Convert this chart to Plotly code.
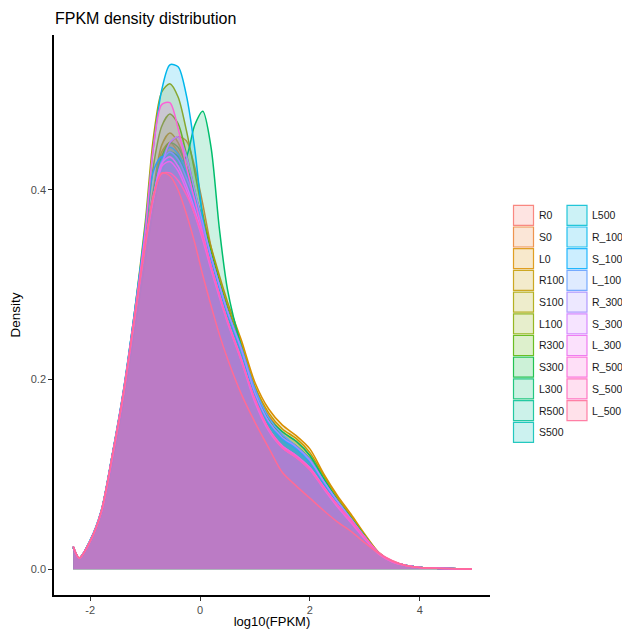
import math
import plotly.graph_objects as go

# Evaluation grid on log10(FPKM) shared by all samples
x_grid = [-2.31, -2.2, -2.0, -1.8, -1.6, -1.4, -1.2, -1.0, -0.85, -0.7, -0.55, -0.4,
          -0.25, -0.1, 0.05, 0.2, 0.35, 0.5, 0.75, 1.0, 1.25, 1.5, 1.75, 2.0, 2.25,
          2.5, 2.75, 3.0, 3.25, 3.5, 3.75, 4.0, 4.5, 4.95]

samples = ["R0", "S0", "L0", "R100", "S100", "L100", "R300", "S300", "L300",
           "R500", "S500", "L500", "R_100", "S_100", "L_100", "R_300", "S_300",
           "L_300", "R_500", "S_500", "L_500"]

R0 = [.024, .012, .030, .061, .119, .184, .262, .342, .39, .43, .44, .435, .42, .395, .365, .33, .30, .272, .232,
      .186, .156, .139, .129, .115, .093, .072, .053, .034, .017, .008, .004, .002, .0008, .0003]
S0 = [.023, .012, .029, .060, .117, .182, .260, .338, .385, .425, .448, .456, .452, .425, .385, .34, .305, .275, .235,
      .19, .162, .145, .135, .12, .096, .074, .055, .035, .017, .008, .004, .002, .0008, .0003]
L0 = [.023, .012, .029, .059, .116, .181, .260, .340, .395, .44, .45, .44, .42, .395, .37, .34, .31, .282, .242,
      .197, .169, .152, .141, .127, .101, .078, .058, .037, .018, .008, .004, .002, .0008, .0003]
R100 = [.024, .012, .030, .060, .118, .183, .262, .344, .40, .447, .46, .45, .425, .395, .365, .335, .305, .278, .238,
        .193, .165, .148, .138, .123, .099, .076, .056, .036, .018, .008, .004, .002, .0008, .0003]
S100 = [.023, .012, .030, .061, .120, .186, .268, .365, .455, .503, .512, .498, .463, .42, .375, .335, .303, .274, .233,
        .187, .157, .14, .13, .116, .093, .072, .053, .034, .017, .008, .004, .002, .0008, .0003]
L100 = [.023, .012, .030, .061, .120, .185, .265, .35, .425, .467, .48, .47, .438, .40, .365, .33, .30, .272, .232,
        .186, .156, .139, .129, .115, .093, .072, .053, .034, .017, .008, .004, .002, .0008, .0003]
R300 = [.023, .012, .030, .060, .118, .183, .262, .343, .395, .435, .45, .445, .425, .398, .366, .332, .302, .273, .233,
        .187, .157, .14, .13, .116, .093, .072, .053, .034, .017, .008, .004, .002, .0008, .0003]
S300 = [.023, .012, .030, .060, .118, .183, .262, .342, .393, .43, .44, .435, .418, .395, .365, .332, .301, .272, .232,
        .185, .155, .138, .128, .114, .092, .071, .052, .034, .017, .008, .004, .002, .0008, .0003]
L300 = [.023, .012, .029, .058, .112, .175, .25, .325, .38, .42, .432, .427, .435, .468, .483, .445, .36, .295, .235,
        .19, .16, .145, .135, .12, .096, .073, .054, .035, .017, .008, .004, .002, .0008, .0003]
R500 = [.023, .012, .030, .060, .118, .183, .262, .342, .392, .43, .438, .43, .415, .39, .362, .33, .30, .272, .232,
        .185, .155, .138, .128, .114, .092, .071, .052, .034, .017, .008, .004, .002, .0008, .0003]
S500 = [.023, .012, .030, .060, .118, .183, .262, .342, .39, .428, .44, .432, .415, .39, .36, .328, .298, .27, .23,
        .184, .154, .137, .127, .113, .091, .07, .052, .034, .017, .008, .004, .002, .0008, .0003]
L500 = [.023, .012, .030, .061, .119, .184, .264, .345, .395, .432, .445, .438, .42, .393, .363, .33, .30, .272, .232,
        .186, .156, .139, .129, .115, .093, .072, .053, .034, .017, .008, .004, .002, .0008, .0003]
R_100 = [.024, .012, .030, .061, .120, .186, .268, .36, .445, .505, .532, .53, .50, .445, .37, .325, .295, .27, .23,
         .185, .155, .138, .128, .114, .092, .071, .052, .034, .017, .008, .004, .002, .0008, .0003]
S_100 = [.024, .012, .031, .062, .121, .187, .268, .355, .42, .435, .43, .42, .405, .385, .36, .33, .30, .272, .232,
         .185, .155, .138, .128, .114, .092, .071, .052, .034, .017, .008, .004, .002, .0008, .0003]
L_100 = [.023, .012, .030, .060, .118, .183, .262, .342, .392, .43, .44, .432, .413, .39, .36, .33, .30, .272, .234,
         .19, .16, .142, .13, .116, .093, .072, .053, .034, .017, .008, .004, .002, .0008, .0003]
R_300 = [.023, .012, .030, .060, .117, .182, .260, .340, .39, .425, .45, .456, .436, .40, .365, .33, .30, .272, .232,
         .186, .156, .139, .129, .115, .093, .072, .053, .034, .017, .008, .004, .002, .0008, .0003]
S_300 = [.023, .012, .030, .060, .118, .183, .262, .342, .392, .428, .435, .425, .405, .38, .352, .32, .29, .262, .222,
         .178, .148, .13, .12, .107, .087, .068, .05, .033, .017, .008, .004, .002, .0008, .0003]
L_300 = [.023, .012, .030, .060, .118, .183, .262, .342, .392, .425, .43, .42, .40, .375, .347, .316, .287, .26, .22,
         .176, .146, .128, .118, .105, .085, .066, .049, .032, .016, .008, .004, .002, .0008, .0003]
R_500 = [.024, .012, .030, .061, .120, .186, .266, .355, .445, .49, .492, .465, .425, .39, .355, .32, .29, .262, .222,
         .178, .148, .13, .12, .107, .087, .068, .05, .033, .017, .008, .004, .002, .0008, .0003]
S_500 = [.024, .012, .030, .061, .119, .184, .263, .342, .395, .417, .418, .41, .395, .375, .35, .32, .29, .262, .22,
         .18, .148, .128, .118, .105, .086, .068, .052, .034, .018, .009, .004, .002, .0008, .0003]
L_500 = [.024, .012, .030, .061, .119, .184, .263, .342, .393, .418, .415, .40, .375, .345, .31, .278, .248, .222, .185,
         .155, .128, .102, .088, .075, .062, .05, .04, .028, .017, .009, .004, .002, .0008, .0003]

densities = [R0, S0, L0, R100, S100, L100, R300, S300, L300, R500, S500, L500,
             R_100, S_100, L_100, R_300, S_300, L_300, R_500, S_500, L_500]

x_ticks = [-2, 0, 2, 4]
y_ticks = [0.0, 0.2, 0.4]


def hcl_rgb(h, c=100.0, l=65.0):
    """Polar CIE-Luv (D65) to 8-bit sRGB, as used for default hue palettes."""
    hr = math.radians(h)
    U, V = c * math.cos(hr), c * math.sin(hr)
    Xn, Yn, Zn = 95.047, 100.0, 108.883
    den = Xn + 15 * Yn + 3 * Zn
    un, vn = 4 * Xn / den, 9 * Yn / den
    Y = Yn * ((l + 16) / 116) ** 3 if l > 8 else Yn * l / 903.3
    u = U / (13 * l) + un
    v = V / (13 * l) + vn
    X = Y * 9 * u / (4 * v)
    Z = Y * (12 - 3 * u - 20 * v) / (4 * v)
    x, y, z = X / 100, Y / 100, Z / 100
    lin = [3.240479 * x - 1.537150 * y - 0.498535 * z,
           -0.969256 * x + 1.875992 * y + 0.041556 * z,
           0.055648 * x - 0.204043 * y + 1.057311 * z]
    out = []
    for t in lin:
        t = 12.92 * t if t <= 0.0031308 else 1.055 * t ** (1 / 2.4) - 0.055
        out.append(int(round(min(max(t, 0), 1) * 255)))
    return tuple(out)


n = len(samples)
palette = [hcl_rgb(15 + i * 360.0 / n) for i in range(n)]

fig = go.Figure()
for name, dens, (r, g, b) in zip(samples, densities, palette):
    fig.add_trace(go.Scatter(
        x=x_grid, y=dens, name=name, mode="lines",
        line=dict(color=f"rgb({r},{g},{b})", width=1.5, shape="spline", smoothing=0.8),
        fill="tozeroy", fillcolor=f"rgba({r},{g},{b},0.2)",
        showlegend=False, hoverinfo="skip",
    ))

# Plot area geometry in pixels (used to place the two-column legend)
W, H = 622, 629
L_PX, R_PX, T_PX, B_PX = 54, 490, 35, 595


def px_x(p):
    return (p - L_PX) / (R_PX - L_PX)


def px_y(p):
    return (B_PX - p) / (B_PX - T_PX)


shapes = []
annotations = []
rows_per_col = 11
for i, (name, (r, g, b)) in enumerate(zip(samples, palette)):
    col, row = divmod(i, rows_per_col)
    x0 = 513.5 if col == 0 else 567.0
    cy = 215.3 + 21.7 * row
    shapes.append(dict(
        type="rect", xref="paper", yref="paper",
        x0=px_x(x0), x1=px_x(x0 + 20), y0=px_y(cy + 10), y1=px_y(cy - 10),
        fillcolor=f"rgba({r},{g},{b},0.2)",
        line=dict(color=f"rgba({r},{g},{b},0.85)", width=1.2),
    ))
    annotations.append(dict(
        xref="paper", yref="paper", x=px_x(x0 + 23), y=px_y(cy),
        text=name, showarrow=False, xanchor="left", yanchor="middle",
        font=dict(size=10.5, color="#1a1a1a"),
    ))

axis_common = dict(
    showgrid=False, zeroline=False, showline=True, linecolor="black", linewidth=1.6,
    ticks="outside", ticklen=4, tickwidth=1, tickcolor="#333333",
    tickfont=dict(size=11, color="#4D4D4D"), automargin=False,
)

fig.update_layout(
    width=W, height=H,
    margin=dict(l=L_PX, r=W - R_PX, t=T_PX, b=H - B_PX),
    paper_bgcolor="white", plot_bgcolor="white",
    font=dict(family="Liberation Sans, Arial, sans-serif", color="black"),
    title=dict(text="FPKM density distribution", x=55 / W,
               xref="container", xanchor="left", yref="container", y=1 - 18.5 / H,
               yanchor="middle", font=dict(size=16, color="black")),
    xaxis=dict(range=[-2.66, 5.28], tickvals=x_ticks, ticktext=[f"{v}" for v in x_ticks],
               title=dict(text="log10(FPKM)", font=dict(size=13), standoff=5), **axis_common),
    yaxis=dict(range=[-0.0271, 0.5634], tickvals=y_ticks, ticktext=[f"{v:.1f}" for v in y_ticks],
               title=dict(text="Density", font=dict(size=13.5), standoff=7), **axis_common),
    shapes=shapes, annotations=annotations,
)

fig.write_html("out.html")
